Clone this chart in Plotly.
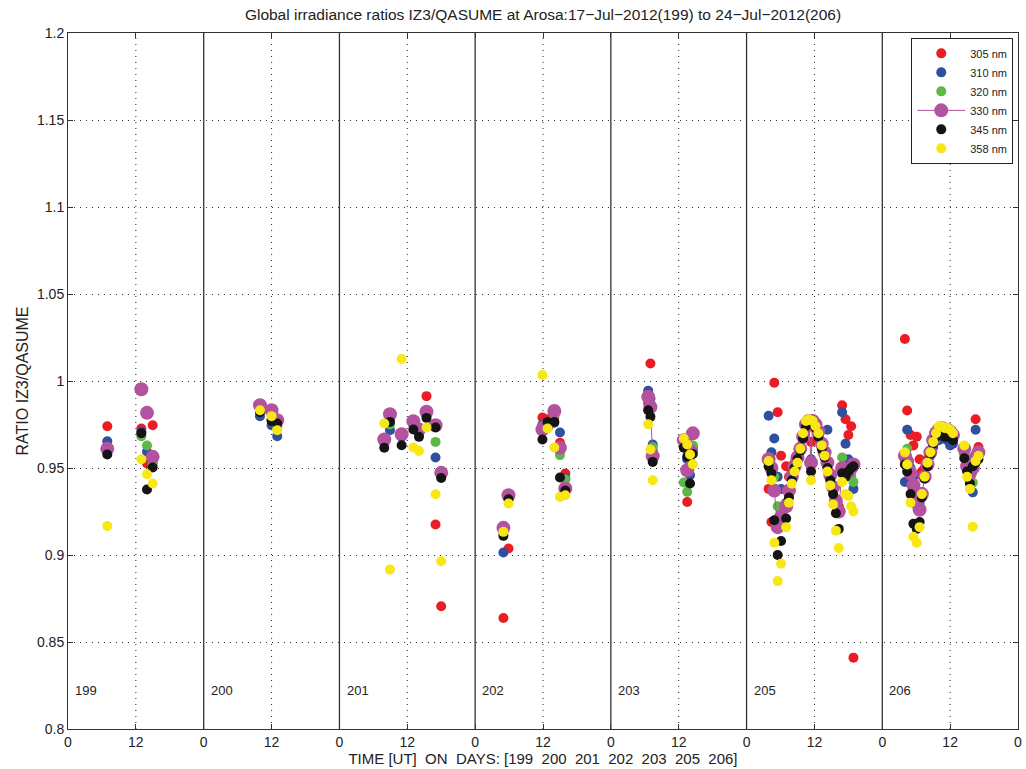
import plotly.graph_objects as go

# ---------------- data ----------------
day_labels = ["199", "200", "201", "202", "203", "205", "206"]
wavelengths = ["305 nm", "310 nm", "320 nm", "330 nm", "345 nm", "358 nm"]

# UT hours of the measurements, per day panel
hours_199 = [6.95, 12.97, 13.97, 14.97]
hours_200 = [9.95, 12.0, 13.0]
hours_201 = [7.93, 8.94, 11.0, 13.07, 14.07, 15.4, 17.0, 18.0]
hours_202 = [5.0, 5.9, 11.9, 12.8, 14.0, 15.0, 15.95]
hours_203 = [6.6, 7.0, 7.4, 12.9, 13.5, 14.0, 14.5]
hours_205 = [3.9, 4.4, 4.9, 5.5, 6.1, 7.0, 7.5, 8.0, 8.5, 9.0, 9.5, 10.0, 10.5, 11.0, 11.4,
             11.7, 12.2, 12.7, 13.3, 13.8, 14.3, 14.8, 15.3, 15.8, 16.3, 16.9, 17.5, 18.0, 18.5, 18.9]
hours_206 = [4.0, 4.4, 5.0, 5.5, 6.1, 6.6, 7.0, 7.5, 8.0, 8.5, 9.0, 9.5, 10.0, 10.5, 11.0, 11.5,
             12.0, 12.5, 14.5, 15.0, 15.5, 16.0, 16.5, 17.0]
hours_by_day = [hours_199, hours_200, hours_201, hours_202, hours_203, hours_205, hours_206]

ratio_305 = [
    [0.974, 0.9727, 0.9526, 0.9746],
    [0.984, 0.978, 0.974],
    [0.967, 0.978, 0.970, 0.976, 0.972, 0.9913, 0.9175, 0.8705],
    [0.8638, 0.9037, 0.979, 0.978, 0.979, 0.9645, 0.9468],
    [0.987, 1.0101, 0.960, 0.965, 0.9305, 0.955, 0.962],
    [0.938, 0.919, 0.999, 0.982, 0.957, 0.951, 0.945, 0.948, 0.953, 0.957, 0.962, 0.968, 0.972, 0.975, 0.965,
     0.976, 0.974, 0.970, 0.964, 0.957, 0.952, 0.946, 0.938, 0.930, 0.928, 0.986, 0.978, 0.969, 0.974, 0.841],
    [1.0241, 0.983, 0.969, 0.963, 0.968, 0.955, 0.948, 0.950, 0.955, 0.960, 0.965, 0.968, 0.970, 0.971, 0.970,
     0.970, 0.969, 0.968, 0.960, 0.952, 0.948, 0.953, 0.978, 0.962],
]
ratio_310 = [
    [0.9654, 0.971, 0.9593, 0.953],
    [0.9798, 0.9746, 0.9683],
    [0.965, 0.9717, 0.968, 0.975, 0.970, 0.980, 0.956, 0.945],
    [0.9014, 0.933, 0.975, 0.974, 0.976, 0.9704, 0.944],
    [0.9944, 0.990, 0.9635, 0.963, 0.955, 0.9459, 0.960],
    [0.980, 0.959, 0.967, 0.945, 0.938, 0.930, 0.938, 0.946, 0.952, 0.957, 0.962, 0.969, 0.975, 0.976, 0.955,
     0.976, 0.974, 0.969, 0.962, 0.958, 0.972, 0.947, 0.940, 0.932, 0.925, 0.982, 0.964, 0.955, 0.945, 0.938],
    [0.942, 0.972, 0.950, 0.945, 0.935, 0.930, 0.936, 0.944, 0.951, 0.957, 0.962, 0.966, 0.966, 0.967, 0.967,
     0.966, 0.963, 0.964, 0.958, 0.950, 0.942, 0.936, 0.972, 0.958],
]
ratio_320 = [
    [0.961, 0.9683, 0.9629, 0.952],
    [0.983, 0.978, 0.973],
    [0.966, 0.975, 0.969, 0.975, 0.971, 0.981, 0.965, 0.946],
    [0.913, 0.935, 0.974, 0.975, 0.980, 0.9574, 0.9434],
    [0.990, 0.987, 0.962, 0.9417, 0.9363, 0.955, 0.963],
    [0.956, 0.950, 0.945, 0.928, 0.925, 0.929, 0.936, 0.945, 0.951, 0.956, 0.961, 0.968, 0.975, 0.977, 0.952,
     0.977, 0.975, 0.970, 0.963, 0.958, 0.953, 0.946, 0.938, 0.930, 0.925, 0.956, 0.950, 0.948, 0.945, 0.942],
    [0.955, 0.961, 0.949, 0.940, 0.932, 0.928, 0.936, 0.945, 0.952, 0.958, 0.964, 0.968, 0.970, 0.971, 0.970,
     0.970, 0.969, 0.967, 0.959, 0.950, 0.945, 0.9416, 0.955, 0.957],
]
ratio_330 = [
    [0.961, 0.9953, 0.9817, 0.9564],
    [0.9861, 0.9832, 0.9775],
    [0.9664, 0.9809, 0.9694, 0.9769, 0.9721, 0.9823, 0.9746, 0.9472],
    [0.9156, 0.9343, 0.9721, 0.975, 0.9828, 0.9616, 0.9382],
    [0.9909, 0.9851, 0.9568, 0.966, 0.9487, 0.960, 0.9699],
    [0.955, 0.950, 0.937, 0.916, 0.922, 0.928, 0.937, 0.945, 0.951, 0.956, 0.961, 0.968, 0.975, 0.977, 0.953,
     0.977, 0.975, 0.971, 0.964, 0.959, 0.953, 0.946, 0.939, 0.931, 0.925, 0.950, 0.947, 0.948, 0.950, 0.952],
    [0.957, 0.9537, 0.947, 0.940, 0.930, 0.926, 0.935, 0.945, 0.952, 0.959, 0.966, 0.970, 0.972, 0.973, 0.972,
     0.972, 0.971, 0.969, 0.961, 0.951, 0.947, 0.950, 0.956, 0.959],
]
ratio_345 = [
    [0.9578, 0.970, 0.9376, 0.9503],
    [0.982, 0.977, 0.9756],
    [0.9616, 0.9765, 0.9631, 0.9721, 0.9679, 0.9788, 0.9733, 0.9443],
    [0.911, 0.932, 0.9664, 0.9765, 0.9765, 0.9445, 0.937],
    [0.9832, 0.9794, 0.9535, 0.9616, 0.9564, 0.9411, 0.958],
    [0.951, 0.947, 0.920, 0.900, 0.908, 0.921, 0.933, 0.943, 0.950, 0.955, 0.960, 0.967, 0.974, 0.977, 0.948,
     0.976, 0.973, 0.968, 0.961, 0.956, 0.950, 0.943, 0.935, 0.924, 0.915, 0.947, 0.945, 0.948, 0.950, 0.951],
    [0.952, 0.948, 0.935, 0.918, 0.915, 0.919, 0.933, 0.944, 0.951, 0.958, 0.964, 0.968, 0.970, 0.969, 0.968,
     0.968, 0.968, 0.966, 0.9556, 0.948, 0.941, 0.951, 0.953, 0.955],
]
ratio_358 = [
    [0.9167, 0.955, 0.9464, 0.9411],
    [0.9832, 0.9798, 0.9717],
    [0.9756, 0.8916, 1.0126, 0.9618, 0.9598, 0.9733, 0.9349, 0.8964],
    [0.9133, 0.9296, 1.0034, 0.9727, 0.9618, 0.9334, 0.9343],
    [0.9752, 0.9606, 0.943, 0.967, 0.9635, 0.9578, 0.9522],
    [0.954, 0.943, 0.907, 0.885, 0.895, 0.916, 0.930, 0.941, 0.948, 0.953, 0.961, 0.970, 0.977, 0.978, 0.943,
     0.977, 0.974, 0.970, 0.963, 0.957, 0.948, 0.940, 0.929, 0.914, 0.904, 0.942, 0.935, 0.934, 0.928, 0.925],
    [0.959, 0.952, 0.930, 0.9105, 0.907, 0.916, 0.935, 0.945, 0.953, 0.959, 0.965, 0.970, 0.974, 0.974, 0.973,
     0.973, 0.972, 0.970, 0.963, 0.945, 0.938, 0.9163, 0.954, 0.957],
]
all_ratios = [ratio_305, ratio_310, ratio_320, ratio_330, ratio_345, ratio_358]

y_ticks = [0.8, 0.85, 0.9, 0.95, 1.0, 1.05, 1.1, 1.15, 1.2]
y_ticktext = ["0.8", "0.85", "0.9", "0.95", "1", "1.05", "1.1", "1.15", "1.2"]

# ---------------- style ----------------
colors = ["#ec1c24", "#2f4f9f", "#5cb947", "#b3529f", "#141414", "#f7e714"]
sizes = [10, 10, 10, 14, 10, 10]
FONT = "Liberation Sans, Arial, Helvetica, sans-serif"
DOTS = "1px,5px"
n_days = len(day_labels)

W, H = 1026, 769

fig = go.Figure()

for i, name in enumerate(wavelengths):
    xs, ys = [], []
    for d, (hrs, vals) in enumerate(zip(hours_by_day, all_ratios[i])):
        prev = None
        for h, v in zip(hrs, vals):
            if prev is not None and h - prev > 0.85:
                xs.append(None)
                ys.append(None)
            xs.append(d * 24 + h)
            ys.append(v)
            prev = h
        xs.append(None)
        ys.append(None)
    is_line = (name == "330 nm")
    fig.add_trace(go.Scatter(
        x=xs, y=ys, name=name,
        mode="lines+markers" if is_line else "markers",
        connectgaps=False,
        line=dict(color=colors[i], width=1),
        marker=dict(color=colors[i], size=sizes[i], line=dict(width=0)),
    ))

shapes = []
for d in range(n_days):
    shapes.append(dict(type="line", xref="x", yref="y", x0=d * 24 + 12, x1=d * 24 + 12,
                       y0=0.8, y1=1.2, line=dict(color="#222", width=1, dash=DOTS), layer="below"))
    if d > 0:
        shapes.append(dict(type="line", xref="x", yref="y", x0=d * 24, x1=d * 24,
                           y0=0.8, y1=1.2, line=dict(color="#333", width=1.3), layer="below"))

annotations = []
for d, lab in enumerate(day_labels):
    annotations.append(dict(x=d * 24 + 0.9, y=0.822, xref="x", yref="y", text=lab,
                            showarrow=False, xanchor="left", yanchor="middle",
                            font=dict(size=13, color="#222", family=FONT)))

nb = "\u00a0"
xtitle = f"TIME [UT]{nb} ON{nb} DAYS: [199{nb} 200{nb} 201{nb} 202{nb} 203{nb} 205{nb} 206]"

fig.update_layout(
    width=W, height=H,
    margin=dict(l=68, r=8, t=33, b=40, autoexpand=False),
    paper_bgcolor="white", plot_bgcolor="white",
    font=dict(family=FONT, size=13, color="#222"),
    title=dict(text="Global irradiance ratios IZ3/QASUME at Arosa:17\u2212Jul\u22122012(199) to 24\u2212Jul\u22122012(206)",
               x=0.5, xref="paper", xanchor="center", y=1 - 15 / H, yanchor="middle",
               font=dict(size=15.5, color="#222", family=FONT)),
    xaxis=dict(range=[0, 24 * n_days], tickmode="array",
               tickvals=[12 * k for k in range(2 * n_days + 1)],
               ticktext=["0" if k % 2 == 0 else "12" for k in range(2 * n_days + 1)],
               showgrid=False, zeroline=False, showline=True, linecolor="#333", linewidth=1,
               mirror="ticks", ticks="inside", ticklen=5, tickcolor="#333",
               tickfont=dict(size=14, family=FONT, color="#222"),
               automargin=False,
               title=dict(text=xtitle, standoff=4, font=dict(size=15, family=FONT, color="#222"))),
    yaxis=dict(range=[0.8, 1.2], tickmode="array", tickvals=y_ticks, ticktext=y_ticktext,
               showgrid=True, gridcolor="#333", gridwidth=1, griddash=DOTS,
               zeroline=False, showline=True, linecolor="#333", linewidth=1,
               mirror="ticks", ticks="inside", ticklen=5, tickcolor="#333",
               tickfont=dict(size=14, family=FONT, color="#222"),
               automargin=False,
               title=dict(text="RATIO IZ3/QASUME", standoff=4, font=dict(size=16, family=FONT, color="#222"))),
    legend=dict(x=0.995, y=0.993, xanchor="right", yanchor="top",
                bgcolor="white", bordercolor="#222", borderwidth=1,
                font=dict(size=11, family=FONT, color="#222"),
                itemwidth=48, tracegroupgap=0),
    shapes=shapes,
    annotations=annotations,
    showlegend=True,
)

# remove the default 8px page margin so the figure fills the window exactly
fig.write_html("out.html", config={"displayModeBar": False},
               post_script="document.body.style.margin='0px';")
